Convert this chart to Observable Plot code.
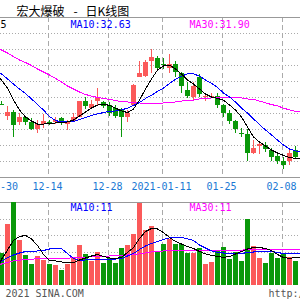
<!DOCTYPE html>
<html><head><meta charset="utf-8">
<script src="https://cdn.jsdelivr.net/npm/d3@7"></script>
<script src="https://cdn.jsdelivr.net/npm/@observablehq/plot@0.6"></script>
<style>
html,body{margin:0;padding:0;background:#fff;}
#chart{position:relative;width:300px;height:300px;overflow:hidden;}
#chart svg{position:absolute;left:0;top:0;background:transparent;overflow:hidden;}
</style></head><body><div id="chart"></div>
<script>
// ---- data ----
const stockName = "宏大爆破";
const chartName = "日K线图";
const tickIndex = [0, 8, 18, 27, 37, 47];
const tickLabels = ["11-30", "12-14", "12-28", "2021-01-11", "01-25", "02-08"];
const priceGrid = [31, 32, 33, 34, 35, 36, 37, 38, 39];
const volGrid = [5.2, 10.4, 15.6, 20.8];
const priceLabels = ["MA5:31.25", "MA10:32.63", "MA30:31.90"];
const volLabels = ["MA10:11", "MA30:11"];

const open = [34.59, 33.84, 34.09, 33.41, 33.72, 33.41, 32.97, 33.34, 33.44, 33.41,
  33.66, 33.34, 33.47, 33.78, 34.72, 34.34, 34.72, 34.66, 34.53, 34.34,
  34.22, 33.72, 34.53, 36.28, 36.34, 37.22, 37.41, 37.09, 36.84, 37.09,
  36.47, 35.41, 35.03, 36.28, 35.00, 34.97, 35.09, 34.47, 34.03, 33.47,
  32.78, 32.66, 31.53, 31.91, 32.03, 31.66, 31.34, 31.03, 30.97, 31.66];
const close = [34.53, 34.09, 33.22, 33.78, 33.41, 33.03, 33.34, 33.53, 33.38, 33.59,
  33.41, 33.47, 33.78, 34.72, 34.41, 34.59, 34.97, 34.41, 34.03, 33.84,
  33.78, 34.03, 35.78, 36.53, 37.16, 37.53, 36.84, 37.02, 37.09, 36.59,
  35.66, 35.09, 35.66, 35.16, 35.07, 35.09, 34.47, 33.97, 33.53, 32.97,
  32.71, 31.47, 31.84, 32.09, 31.72, 31.22, 31.03, 30.78, 31.47, 31.22];
const high = [34.78, 34.41, 34.16, 34.03, 33.84, 33.66, 33.59, 33.91, 33.59, 33.72,
  33.78, 33.59, 34.03, 34.78, 35.03, 34.84, 35.59, 34.78, 34.66, 34.47,
  34.34, 34.16, 35.80, 37.22, 37.34, 37.97, 37.59, 37.41, 37.66, 37.22,
  36.59, 35.91, 35.91, 36.41, 35.22, 35.28, 35.22, 34.59, 34.16, 33.59,
  33.09, 32.97, 32.34, 32.28, 32.16, 31.84, 31.59, 31.22, 31.72, 31.91];
const low = [34.47, 33.59, 32.53, 33.22, 33.22, 32.91, 32.72, 33.09, 33.22, 33.34,
  33.28, 32.91, 33.41, 33.75, 34.22, 34.22, 34.53, 34.34, 33.84, 33.66,
  32.47, 33.41, 34.50, 36.22, 36.28, 36.53, 36.66, 36.72, 36.53, 36.22,
  35.22, 34.91, 34.78, 34.97, 34.78, 34.91, 34.34, 33.78, 33.34, 32.78,
  32.47, 30.97, 31.41, 31.41, 31.59, 30.97, 30.84, 30.53, 30.72, 31.16];
const volume = [10.1, 19.0, 26.0, 14.1, 9.4, 6.6, 9.1, 7.9, 6.6, 6.2,
  4.7, 6.6, 8.9, 12.5, 9.7, 7.5, 10.4, 7.0, 8.4, 7.0,
  11.7, 12.5, 16.1, 25.8, 17.2, 18.5, 10.8, 12.9, 14.3, 12.9,
  12.9, 10.1, 10.1, 11.5, 6.6, 7.3, 10.8, 12.0, 8.2, 10.4,
  7.6, 20.7, 12.2, 8.6, 7.0, 9.9, 8.6, 9.9, 8.9, 7.6];

// moving averages (edge point, days 0..49, edge point)
const maIndex = [-0.25, ...d3.range(50), 49.75];
const ma5 = [36.22, 36.09, 35.59, 34.84, 34.22, 33.78, 33.53, 33.34, 33.34, 33.38, 33.41,
  33.44, 33.47, 33.59, 33.84, 34.09, 34.34, 34.53, 34.59, 34.50, 34.34,
  34.16, 34.06, 34.28, 34.84, 35.53, 36.16, 36.72, 36.97, 37.03, 36.78,
  36.47, 36.09, 35.84, 35.53, 35.22, 35.03, 34.94, 34.84, 34.53, 34.22,
  33.78, 33.16, 32.53, 32.22, 31.97, 31.72, 31.53, 31.38, 31.25, 31.19, 31.16];
const ma10 = [36.53, 36.47, 36.16, 35.84, 35.53, 35.25, 34.91, 34.56, 34.22, 33.81, 33.56,
  33.47, 33.47, 33.50, 33.63, 33.75, 33.88, 33.97, 34.06, 34.13, 34.16,
  34.22, 34.34, 34.50, 34.69, 34.94, 35.13, 35.38, 35.59, 35.88, 36.13,
  36.34, 36.47, 36.47, 36.34, 36.09, 35.88, 35.63, 35.28, 35.03, 34.72,
  34.34, 34.03, 33.66, 33.31, 32.97, 32.66, 32.34, 32.03, 31.78, 31.66, 31.59];
const ma30 = [38.00, 37.97, 37.78, 37.56, 37.34, 37.19, 37.00, 36.78, 36.59, 36.41, 36.19,
  35.97, 35.72, 35.53, 35.34, 35.19, 35.09, 35.00, 34.94, 34.88, 34.81,
  34.75, 34.72, 34.69, 34.66, 34.63, 34.63, 34.63, 34.66, 34.69, 34.72,
  34.78, 34.81, 34.84, 34.91, 34.94, 34.97, 35.00, 35.03, 35.03, 35.03,
  34.97, 34.91, 34.88, 34.78, 34.66, 34.56, 34.47, 34.34, 34.22, 34.13, 34.09];
const volMa5 = [7.21, 8.15, 11.12, 14.10, 15.35, 15.66, 14.57, 12.53, 9.71, 7.83, 7.68,
  7.36, 7.05, 7.21, 7.99, 8.62, 9.24, 9.71, 9.09, 8.62, 8.46,
  8.77, 10.34, 11.90, 14.72, 16.92, 17.86, 17.70, 16.60, 15.04, 13.78,
  13.00, 12.22, 11.59, 10.65, 9.87, 9.40, 9.09, 8.77, 9.09, 9.87,
  10.65, 11.43, 11.90, 11.90, 11.59, 10.96, 9.71, 8.77, 8.46, 8.77, 8.77];
const volMa10 = [7.21, 7.52, 8.77, 9.55, 10.18, 10.65, 10.65, 10.81, 10.96, 11.43, 11.59,
  11.59, 10.02, 8.46, 7.83, 7.99, 8.15, 8.15, 8.15, 8.15, 8.30,
  8.46, 9.24, 10.02, 11.28, 12.37, 13.16, 13.78, 14.41, 14.88, 15.04,
  15.04, 14.57, 14.10, 12.69, 11.75, 10.81, 10.34, 10.18, 10.02, 10.02,
  10.02, 10.34, 10.49, 10.65, 10.65, 10.65, 10.34, 10.02, 10.02, 10.02, 10.02];
const volMa30Index = [-0.25, 0, 2, 4, 7, 10, 13, 16, 20, 23, 25, 28, 31, 35, 38, 40, 41, 45, 49, 49.75];
const volMa30 = [6.58, 6.74, 7.68, 8.15, 8.46, 8.46, 8.77, 9.09, 9.40, 9.90, 10.50, 10.96, 10.96, 10.96, 10.96, 11.10, 11.20, 11.30, 11.30, 11.30];

// ---- drawing ----
const UP = "#fb5a5a", DOWN = "#0a980a";
const BLUE = "#0000ff", MAG = "#ff00ff";
const DATE_BLUE = "#1a78d4";
const GRID = "#aaaaaa", FRAME = "#999999";
const MONO = "DejaVu Sans Mono";
const CJK = "Noto Sans CJK SC";

const candles = open.map((o, i) => ({i, o, c: close[i], h: high[i], l: low[i], v: volume[i]}));
const col = d => (d.c >= d.o ? UP : DOWN);
const pts = (xs, ys) => xs.map((x, k) => ({x, y: ys[k]}));
const X = {domain: [0, 49], range: [1, 295], axis: null};
const crisp = {shapeRendering: "crispEdges"};
const styleStr = "font-family:'DejaVu Sans Mono',monospace;font-size:10px;background:transparent;overflow:hidden;position:absolute;left:0;top:0;";
const dateText = {frameAnchor: "bottom", lineAnchor: "bottom", dy: 12, fill: DATE_BLUE, fontFamily: MONO, fontSize: 10};

const pricePlot = Plot.plot({
  width: 300, height: 300,
  marginTop: 17, marginBottom: 123, marginLeft: 0, marginRight: 0,
  x: X,
  y: {domain: [30, 40], axis: null},
  style: styleStr,
  marks: [
    Plot.ruleY(priceGrid, {stroke: GRID, strokeDasharray: "1,2", ...crisp}),
    Plot.ruleX(tickIndex.slice(1), {dx: -1, stroke: GRID, strokeDasharray: "5,3", ...crisp}),
    Plot.ruleY([30, 40], {stroke: FRAME, ...crisp}),
    Plot.ruleX(candles, {x: "i", y1: "l", y2: "h", stroke: col, ...crisp}),
    Plot.ruleX(candles, {x: "i", y1: "o", y2: "c", stroke: col, strokeWidth: 5, ...crisp}),
    Plot.line(pts(maIndex, ma30), {x: "x", y: "y", stroke: MAG, strokeWidth: 1, ...crisp}),
    Plot.line(pts(maIndex, ma10), {x: "x", y: "y", stroke: BLUE, strokeWidth: 1, ...crisp}),
    Plot.line(pts(maIndex, ma5), {x: "x", y: "y", stroke: "#000", strokeWidth: 1, ...crisp}),
    Plot.text(tickLabels.slice(0, 1), {x: tickIndex.slice(0, 1), text: d => d, dx: 1.5, ...dateText}),
    Plot.text(tickLabels.slice(1), {x: tickIndex.slice(1), text: d => d, dx: -2, ...dateText}),
    Plot.text([priceLabels[0]], {frameAnchor: "top-left", textAnchor: "end", lineAnchor: "bottom", dx: 6, dy: 10, fill: "#000", fontFamily: MONO, fontSize: 10}),
    Plot.text([priceLabels[1]], {frameAnchor: "top-left", textAnchor: "start", lineAnchor: "bottom", dx: 70, dy: 10, fill: BLUE, fontFamily: MONO, fontSize: 10}),
    Plot.text([priceLabels[2]], {frameAnchor: "top-left", textAnchor: "start", lineAnchor: "bottom", dx: 189, dy: 10, fill: MAG, fontFamily: MONO, fontSize: 10}),
    Plot.text([stockName], {frameAnchor: "top-left", textAnchor: "start", lineAnchor: "bottom", dx: 16, dy: -2, fill: "#000", fontFamily: CJK, fontSize: 12}),
    Plot.text(["-"], {frameAnchor: "top-left", textAnchor: "middle", lineAnchor: "bottom", dx: 75, dy: -2, fill: "#000", fontFamily: CJK, fontSize: 12}),
    Plot.text([chartName], {frameAnchor: "top-left", textAnchor: "start", lineAnchor: "bottom", dx: 85, dy: -2, fill: "#000", fontFamily: CJK, fontSize: 12})
  ]
});

const volPlot = Plot.plot({
  width: 300, height: 300,
  marginTop: 202, marginBottom: 15, marginLeft: 0, marginRight: 0,
  x: X,
  y: {domain: [0, 26], axis: null},
  style: styleStr,
  marks: [
    Plot.ruleY(volGrid, {stroke: GRID, strokeDasharray: "1,2", ...crisp}),
    Plot.ruleX(tickIndex.slice(1), {dx: -1, stroke: GRID, strokeDasharray: "5,3", ...crisp}),
    Plot.ruleY([26], {stroke: FRAME, ...crisp}),
    Plot.ruleX(candles, {x: "i", y1: 0, y2: "v", stroke: col, strokeWidth: 5, ...crisp}),
    Plot.line(pts(volMa30Index, volMa30), {x: "x", y: "y", stroke: MAG, strokeWidth: 1, ...crisp}),
    Plot.line(pts(maIndex, volMa10), {x: "x", y: "y", stroke: BLUE, strokeWidth: 1, ...crisp}),
    Plot.line(pts(maIndex, volMa5), {x: "x", y: "y", stroke: "#000", strokeWidth: 1, ...crisp}),
    Plot.text([volLabels[0]], {frameAnchor: "top-left", textAnchor: "start", lineAnchor: "bottom", dx: 70, dy: 8, fill: BLUE, fontFamily: MONO, fontSize: 10}),
    Plot.text([volLabels[1]], {frameAnchor: "top-left", textAnchor: "start", lineAnchor: "bottom", dx: 189, dy: 8, fill: MAG, fontFamily: MONO, fontSize: 10}),
    Plot.text(["2021 SINA.COM"], {frameAnchor: "bottom-left", textAnchor: "start", lineAnchor: "bottom", dx: 5, dy: 11, fill: "#555", fontFamily: MONO, fontSize: 10}),
    Plot.text(["http://finance.sina.com.cn"], {frameAnchor: "bottom-left", textAnchor: "start", lineAnchor: "bottom", dx: 268, dy: 11, fill: "#555", fontFamily: MONO, fontSize: 10})
  ]
});

const host = document.getElementById("chart");
host.appendChild(pricePlot);
host.appendChild(volPlot);
</script>
</body></html>
